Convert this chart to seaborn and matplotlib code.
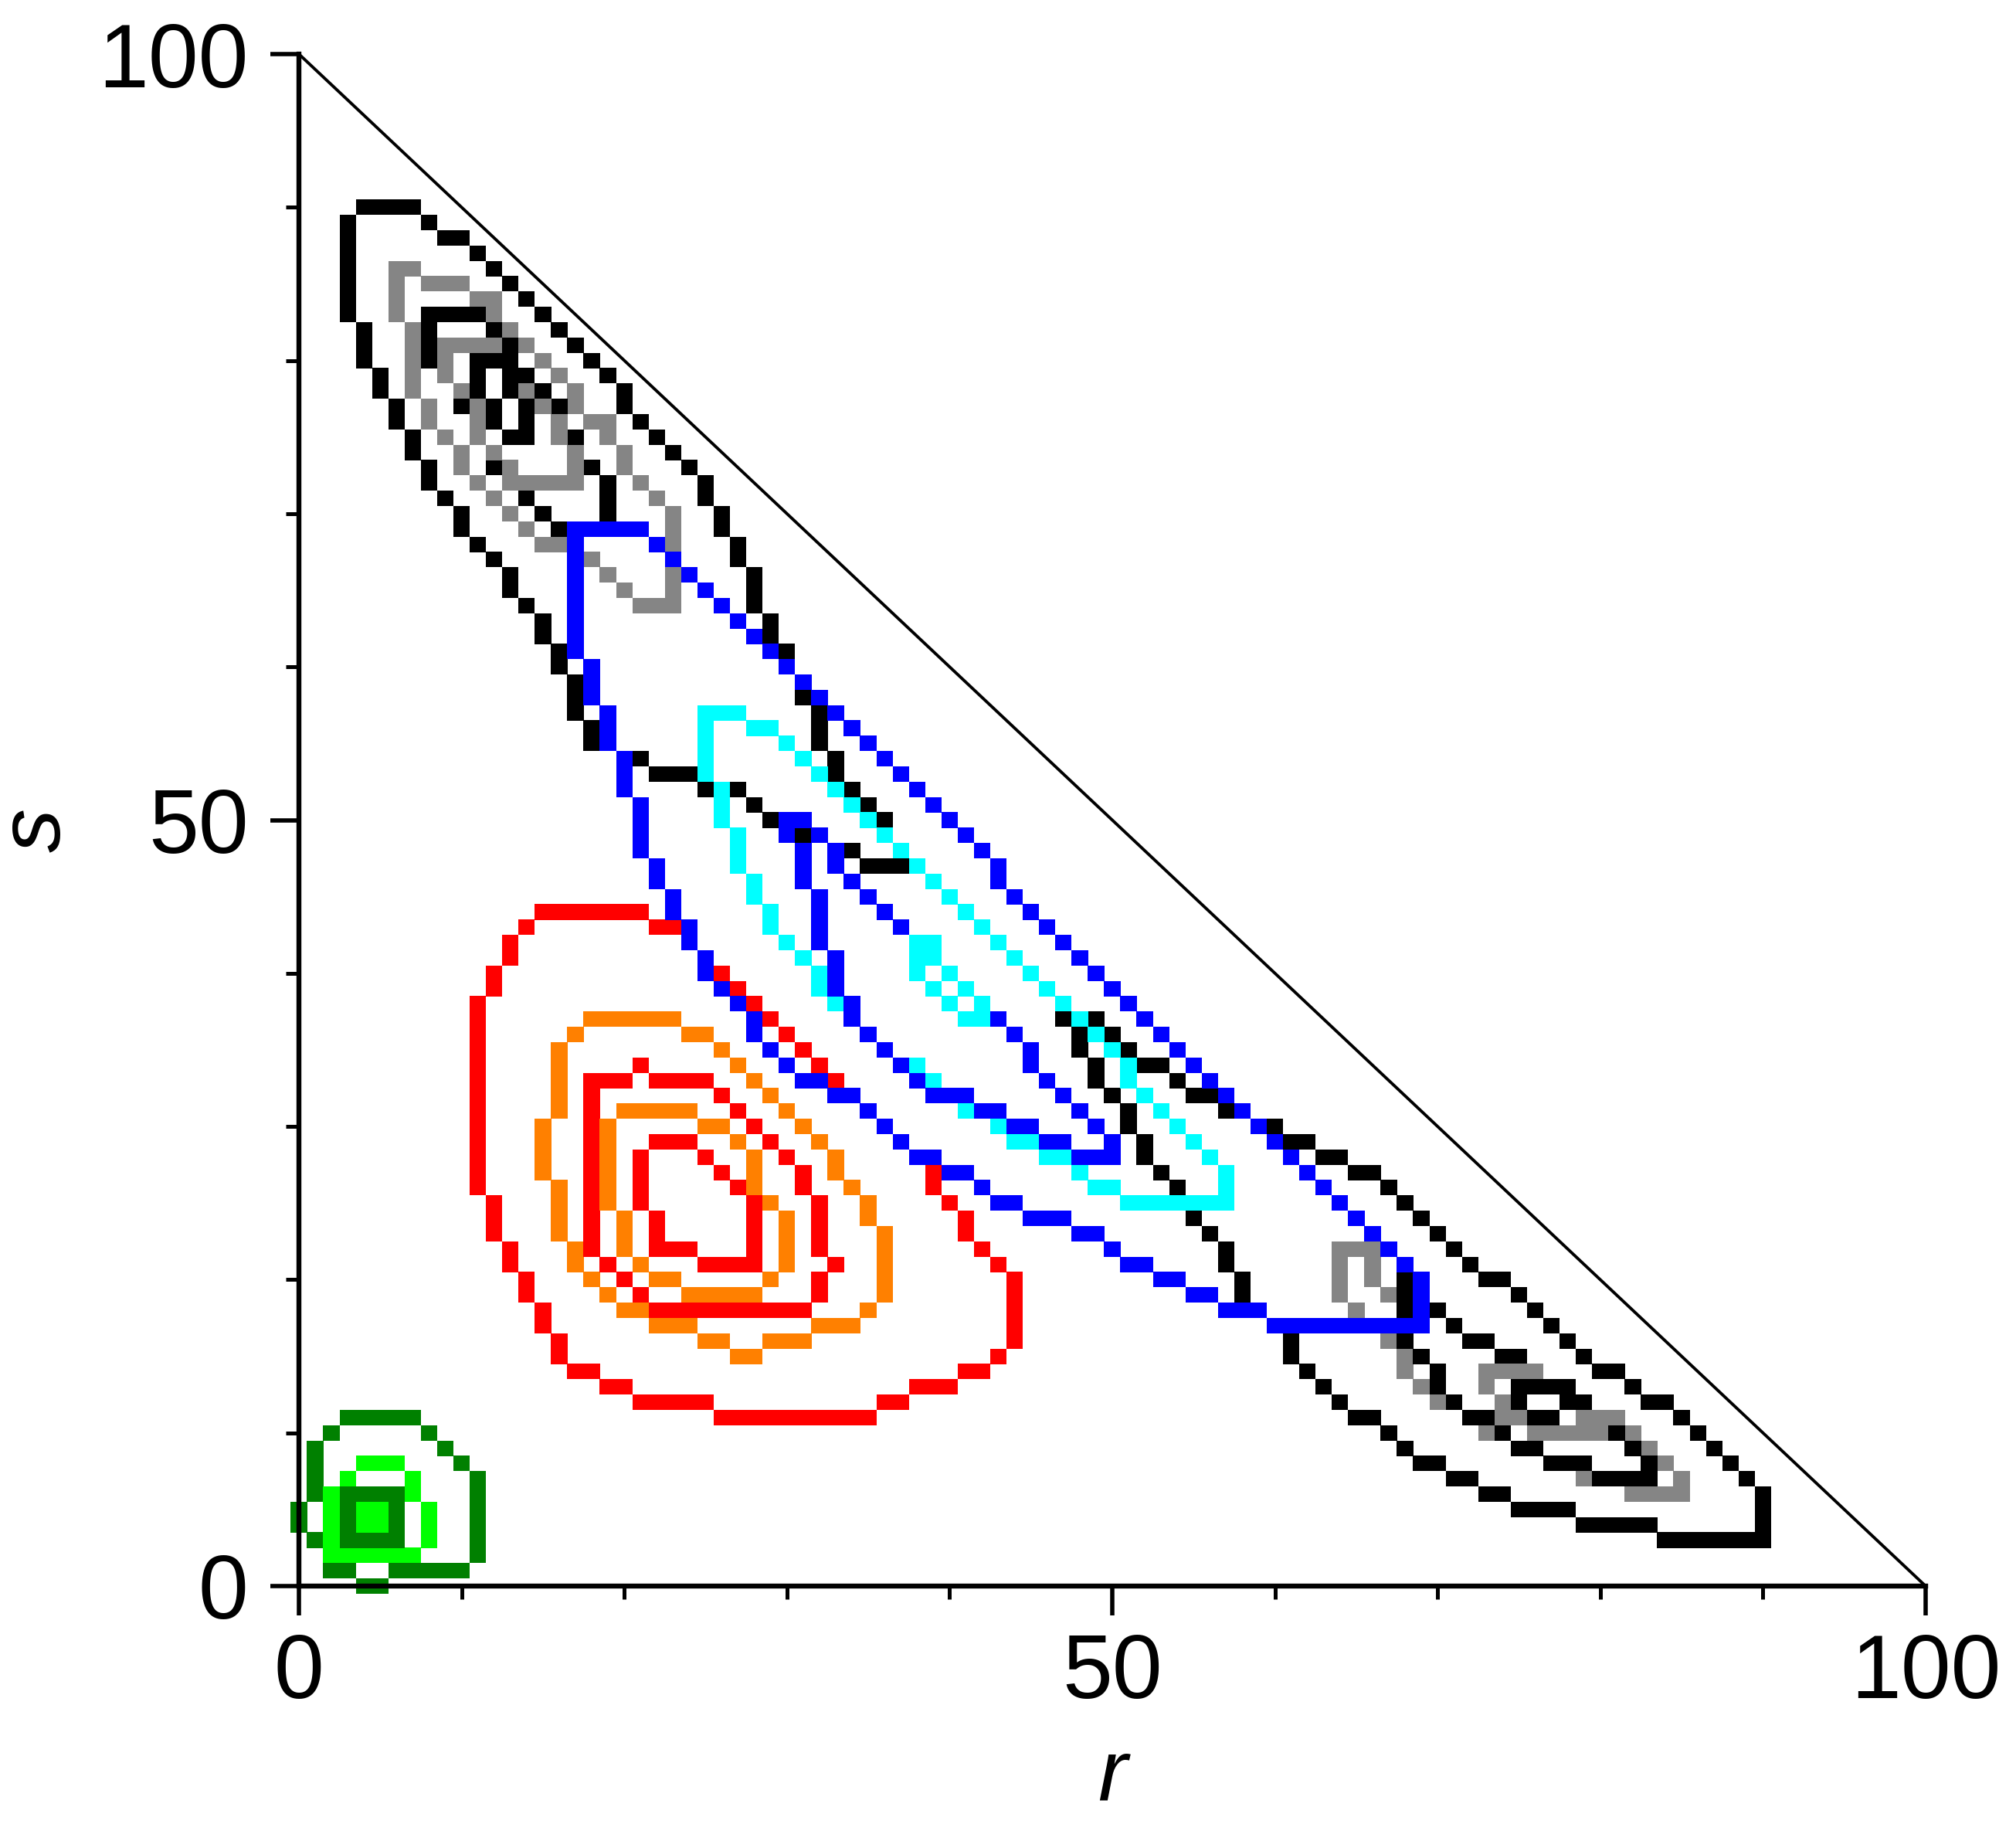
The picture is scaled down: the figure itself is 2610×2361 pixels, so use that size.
import numpy as np
import pandas as pd
import matplotlib
matplotlib.use("Agg")
import matplotlib.pyplot as plt
from matplotlib.path import Path
from matplotlib.markers import MarkerStyle
import seaborn as sns

# ---------------- contour outlines (r, s) ----------------
GREEN_1 = [(3.5,-0.6),(5.6,-0.6),(5.6,0.6),(9.6,0.6),(10.6,1.6),(11.6,2.6),(11.6,6.6),(10.6,7.6),
           (9.6,8.6),(9.6,9.6),(7.6,10.6),(6.6,11.6),(2.6,11.6),(1.6,10.6),(0.6,9.6),(0.6,5.6),
           (-0.6,5.6),(-0.6,3.6),(0.6,3.6),(0.6,2.6),(1.6,1.6),(1.6,0.6),(3.5,0.6)]
GREEN_2 = [(3.5,1.5),(6.5,1.5),(7.5,2.5),(8.5,3.5),(8.5,5.5),(7.5,6.5),(7.5,7.5),(5.5,8.5),
           (3.5,8.5),(2.5,7.5),(1.5,6.5),(1.5,2.5),(2.5,1.5)]
GREEN_3 = [(2.5,2.5),(6.5,2.5),(6.5,6.5),(2.5,6.5)]
GREEN_4 = [(3.5,3.5),(5.5,3.5),(5.5,5.5),(3.5,5.5)]

RED_1 = [(15.4,44.5),(20.4,44.5),(22.4,43.5),(24.4,42),(26,40.5),(28.5,38.3),(38.5,28.3),(40.2,25.6),
         (42.3,22.4),(43.2,20.8),(44.4,20.4),(44.4,15.5),(43.5,15.3),(41.4,13.4),(39.3,12.4),(35.4,11.4),
         (35.4,10.4),(25.3,10.4),(25.3,11.4),(21.4,11.4),(19.3,12.4),(17.3,13.4),(15.3,15.5),(13.3,19.5),
         (12.3,21.4),(11.4,25.5),(10.3,25.6),(10.3,35.5),(11.4,39.5),(12.3,41.6),(14.3,43.5)]
ORANGE_2 = [(18.4,37.7),(22.4,37.7),(24.4,36.7),(25.5,35.5),(27.3,34.3),(28.5,33),(33.3,27.8),(35.4,24.6),
            (36.3,22.4),(36.3,18.5),(35.4,17.5),(33.3,16.5),(29.4,15.5),(28.5,14.6),(26.4,14.6),(26.4,15.5),
            (22.4,16.5),(20.3,17.5),(18.4,19.5),(16.4,20.4),(16.4,22.4),(15.4,22.4),(15.4,26.5),(14.3,26.5),
            (14.3,30.5),(15.4,30.5),(15.4,34.5),(16.5,36.6)]
RED_3 = [(20.4,34.4),(21.4,34.4),(21.4,33.4),(24.4,33.4),(26.4,32.4),(27.3,31.4),(31.3,26.8),(32.2,24.6),
         (32.2,21.4),(33.3,21.4),(33.3,20.4),(32.2,20.4),(32.2,18.5),(31.3,17.5),(22.3,17.5),(21.4,18.5),
         (19.3,19.5),(18.4,21.4),(17.3,22.4),(17.3,32.4),(18.4,33.4),(20.4,33.4)]
ORANGE_4 = [(20.4,31.5),(24.4,31.5),(25.3,30.5),(27.3,29.3),(28.5,27.8),(28.5,25.6),(29.4,25.6),(30.3,24.6),
            (30.3,20.4),(29.4,19.5),(28.5,18.5),(24.4,18.5),(22.3,19.5),(21.4,20.4),(20.4,21.4),(19.3,22.4),
            (19.3,24.6),(18.4,24.6),(18.4,29.5),(19.3,30.5)]
RED_5 = [(21.4,29.3),(24.4,29.3),(25.3,28.4),(26.3,27.4),(27.3,26.2),(28.3,24.6),(28.3,20.5),(24.4,20.5),
         (24.4,21.5),(22.3,21.5),(21.4,22.4),(21.4,24.6),(20.4,24.6),(20.4,28.4)]

BLACK_TL_1 = [(3.4,90.8),(6.5,90.8),(9,89),(16,82.3),(20.5,77.6),(25.5,71.4),(27.5,67.3),(29,63.9),
              (30.6,60.6),(32.2,57.2),(33.8,52.7),(36,50.2),(38,47.6),(37.5,45.8),(33.8,47.4),(29.9,49.1),
              (26.7,51.2),(22.7,52.6),(18,54.4),(16.8,56.5),(15.8,59.8),(14.3,63.2),(12.5,65.6),(11,67.6),
              (9,70.2),(7.8,72.2),(6.7,74.3),(5.6,76.3),(4.6,78.3),(3.4,81.3),(2.3,85.3),(2.3,88.5)]
GRAY_TL_2 = [(5.6,86.6),(7.7,86.6),(7.7,85.5),(10,85.2),(12.1,84.4),(13.3,82.5),(15.3,80.4),(17.3,77.6),
             (19.5,75.6),(20.7,73),(22.8,70.5),(23.8,68.4),(23.8,63.3),(20.7,63.3),(19.5,65),(17.3,66.5),
             (15.3,67.5),(13.1,69.5),(11.1,71.4),(8.9,74.5),(7.7,76.5),(6.7,78.6),(6.7,82.4),(5.6,82.4)]
BLACK_TL_3 = [(7.8,83.5),(11.1,83.5),(12.5,82),(14,79.5),(15.3,78),(16.8,76.3),(17.5,74.5),(19.5,72.5),
              (19.8,70),(18.5,68.4),(15.6,68.4),(15.4,69.5),(14.3,70.5),(13.1,71.4),(12.1,72.5),
              (11.1,74.5),(9.9,76.5),(8.9,78.5),(7.8,80)]
GRAY_TL_4 = [(8.9,81.3),(12.1,81.3),(13.1,79.5),(15.3,77.4),(16.3,76.3),(17.3,74.3),(17.3,71.6),(13.3,71.6),
             (12.1,73.2),(11.1,74.5),(9.9,77.5),(8.9,78.5)]
BLACK_TL_5 = [(10.8,80.5),(12.6,80.5),(14.6,76.6),(14.6,74.8),(12.6,74.8),(10.8,77.5)]

BLACK_BR_1 = [(47,37.5),(48.5,37.5),(50.5,36),(55,33),(60.2,30.2),(65.4,27.7),(70.2,23.2),(74.9,19.4),
              (79.6,15.2),(84.4,11.8),(89.1,7.6),(90.5,6.3),(90.5,2.6),(85.2,2.6),(78.8,3.9),(74.1,5.1),
              (71,6.8),(67.8,8.5),(65.4,10.6),(62.3,13.1),(59.9,16.4),(57.5,19.1),(55.9,22.4),(53.6,25.7),
              (51.2,29.1),(49.6,31.7),(48,34.9),(46.8,36.4)]
GRAY_BR_2 = [(63.2,22.5),(66.5,22.5),(67,20),(68.6,19.2),(71,17.5),(74.1,15.4),(77.3,13.3),(80.4,11.6),
             (82.8,9.9),(84.4,8.2),(86,6.4),(86,5.3),(82.8,5.3),(79.6,6.6),(76.5,7.8),(73.3,9.5),
             (70.2,11.6),(67.8,14.1),(66.2,16.6),(63.8,18.4),(63.2,19)]
BLACK_BR_3 = [(67.6,20.6),(69.4,20.6),(69.6,18.3),(71,17.6),(74,15.8),(77,13.8),(80,11.6),(82.5,9.5),
              (83.5,8),(83.5,6.8),(80,6.8),(77,8),(74,9.5),(71,11.5),(69.5,13.5),(67.6,16)]
GRAY_BR_4 = [(72.5,15),(75,15),(78,12.8),(80.5,10.8),(80.5,9.2),(77.5,9.2),(74,11),(72.5,13)]
BLACK_BR_5 = [(75,13.6),(77.5,13.6),(78.3,12),(77.5,10.8),(75.5,10.8),(74.8,12)]

BLUE_1 = [(17,69.8),(20.5,69.8),(22.5,67.8),(26,64.3),(32,58.2),(38,52.2),(44,46),(50,39.8),(56,33.6),
          (60,29.6),(64.3,25.2),(67.3,22.3),(69.8,20.2),(69.8,16.4),(62,16.4),(57.5,17.6),(52.8,19.8),
          (48.8,22.2),(44.9,24),(41.7,25.6),(38.5,27.6),(36.2,29.4),(33,31.8),(30,33.5),(27.3,36.8),
          (25.3,39),(23.3,43),(22.3,45.2),(21,48),(19.5,53),(18.3,56.3),(17.2,59.8),(17,60.5)]
CYAN_2 = [(24.3,57.3),(27.5,57.3),(29.5,56),(33,52.5),(38.5,47.2),(44,41.5),(50,35.2),(54,30.8),
          (56.5,28.2),(57.5,26.5),(57.5,24.3),(52,24.3),(49.6,25.5),(44.9,28.3),(40.1,31.2),(36.2,34.6),
          (32.2,38.4),(29.1,42.6),(27.1,45.9),(25.5,51.8),(24.3,54.5)]
BLUE_3 = [(29.8,50.3),(31.5,50.3),(33.8,47),(37,43.6),(40.1,40.2),(43.3,36.9),(46.4,33.5),(48.8,31),
          (50.5,29.3),(50.5,27.5),(48,27.8),(44.9,29.1),(41.7,30.8),(38.5,32.1),(36.2,33.8),(33.8,36.7),
          (32.2,40.9),(31,45.1),(29.8,49)]
CYAN_4 = [(37.5,42.3),(38.8,42.3),(42.5,38.3),(42.5,36.6),(41,36.6),(37.5,40.3)]

COLORS = {"dkgreen": "#008000", "green": "#00FF00", "red": "#FF0000", "orange": "#FF8000",
          "black": "#000000", "gray": "#858585", "blue": "#0000FF", "cyan": "#00FFFF"}

LEVELS = [
    ("dkgreen", GREEN_1), ("green", GREEN_2), ("dkgreen", GREEN_3), ("green", GREEN_4),
    ("red", RED_1), ("orange", ORANGE_2), ("red", RED_3), ("orange", ORANGE_4), ("red", RED_5),
    ("black", BLACK_TL_1), ("gray", GRAY_TL_2), ("black", BLACK_TL_3), ("gray", GRAY_TL_4), ("black", BLACK_TL_5),
    ("black", BLACK_BR_1), ("gray", GRAY_BR_2), ("black", BLACK_BR_3), ("gray", GRAY_BR_4), ("black", BLACK_BR_5),
    ("blue", BLUE_1), ("cyan", CYAN_2), ("blue", BLUE_3), ("cyan", CYAN_4),
]

# ---------------- rasterise each contour onto the 1-unit grid ----------------
gr, gs = np.meshgrid(np.arange(-2, 103), np.arange(-2, 103))
pts = np.column_stack([gr.ravel() + 1e-3, gs.ravel() + 2e-3])
frames = []
for color, verts in LEVELS:
    inside = Path(np.asarray(verts, float)).contains_points(pts).reshape(gr.shape)
    p = np.pad(inside, 1, constant_values=False)
    interior = p[:-2, 1:-1] & p[2:, 1:-1] & p[1:-1, :-2] & p[1:-1, 2:]
    edge = inside & ~interior
    frames.append(pd.DataFrame({"r": gr[edge], "s": gs[edge], "color": color}))
cells = pd.concat(frames, ignore_index=True)

# ---------------- figure ----------------
sns.set_theme(style="ticks")
plt.rcParams["font.family"] = ["Liberation Sans", "DejaVu Sans"]
plt.rcParams["text.color"] = "black"

W, H, DPI = 2610, 2361, 200
fig = plt.figure(figsize=(W / DPI, H / DPI), dpi=DPI)
ax = fig.add_axes([387 / W, 1 - 2053 / H, (2493 - 387) / W, (2053 - 70) / H])
ax.set_xlim(0, 100)
ax.set_ylim(0, 100)

cw = 21.06 / 19.83
cell_marker = MarkerStyle(Path([(-cw, -1), (cw, -1), (cw, 1), (-cw, 1), (-cw, -1)], closed=True))
side_pt = 21.3 * 72 / DPI
sns.scatterplot(data=cells, x="r", y="s", hue="color", palette=COLORS, marker=cell_marker,
                s=side_pt ** 2, linewidth=0, edgecolor="none", legend=False, ax=ax, clip_on=False,
                zorder=3)

ax.plot([0, 100], [100, 0], color="black", lw=1.4, clip_on=False, zorder=4)

for side in ["top", "right"]:
    ax.spines[side].set_visible(False)
for side in ["left", "bottom"]:
    ax.spines[side].set_linewidth(2.3)
    ax.spines[side].set_color("black")
    ax.spines[side].set_zorder(5)

ax.set_xticks([0, 50, 100])
ax.set_yticks([0, 50, 100])
ax.set_xticks(np.arange(10, 100, 10), minor=True)
ax.set_yticks(np.arange(10, 100, 10), minor=True)
ax.tick_params(which="major", direction="out", length=13.5, width=2.0, labelsize=42,
               bottom=True, left=True, color="black", labelcolor="black")
ax.tick_params(axis="x", which="major", pad=8)
ax.tick_params(axis="y", which="major", pad=10)
ax.tick_params(which="minor", direction="out", length=6, width=1.8, bottom=True, left=True, color="black")
ax.set_xlabel("")
ax.set_ylabel("")

fig.text(1440 / W, 1 - 2330 / H, "r", fontsize=41, style="italic", ha="center", va="baseline",
         color="black")
fig.text(49 / W, 1 - 1074 / H, "s", fontsize=41, style="italic", rotation=90, ha="center", va="center",
         color="black")

fig.savefig("out.png", dpi=DPI, facecolor="white")
